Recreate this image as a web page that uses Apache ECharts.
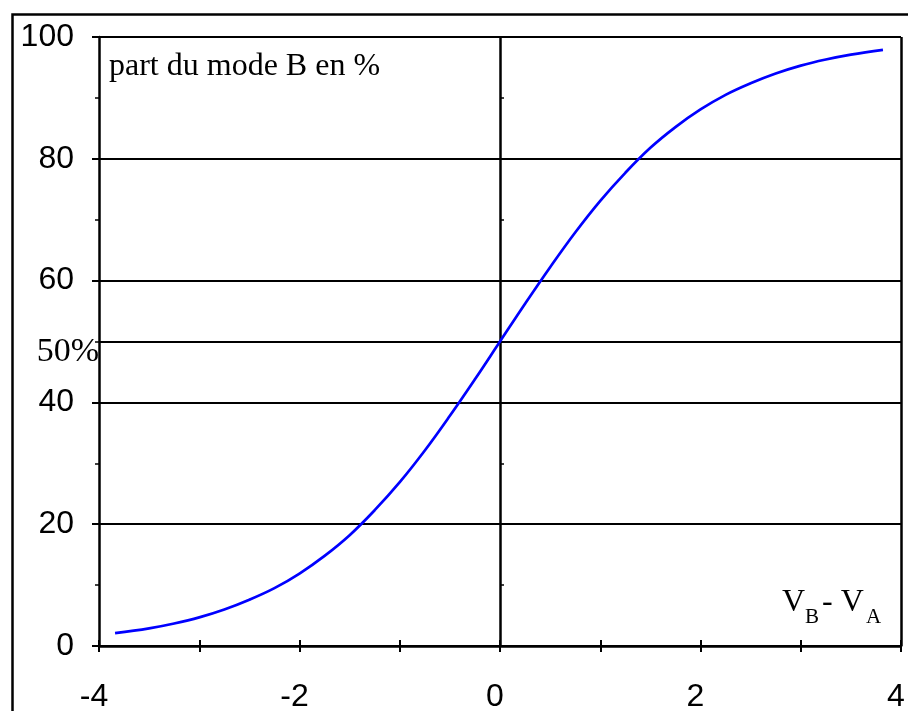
<!DOCTYPE html>
<html>
<head>
<meta charset="utf-8">
<script src="https://cdn.jsdelivr.net/npm/echarts@6/dist/echarts.min.js"></script>
<style>
  html, body { margin: 0; padding: 0; background: #fff; }
  #chart { width: 908px; height: 711px; }
</style>
</head>
<body>
<div id="chart"></div>
<script>
// Utility difference V_B - V_A (x) and share of mode B in % (y)
const utilityDiff = [-3.84, -3.5, -3.25, -3.0, -2.75, -2.5, -2.25, -2.0, -1.75, -1.5, -1.25, -1.0, -0.75, -0.5, -0.25,
                     0.0, 0.25, 0.5, 0.75, 1.0, 1.25, 1.5, 1.75, 2.0, 2.25, 2.5, 2.75, 3.0, 3.25, 3.5, 3.82];
const shareModeB  = [2.1, 2.9, 3.7, 4.7, 6.0, 7.6, 9.5, 11.9, 14.8, 18.2, 22.3, 26.9, 32.1, 37.8, 43.8,
                     50.0, 56.2, 62.2, 67.9, 73.1, 77.7, 81.8, 85.2, 88.1, 90.5, 92.4, 94.0, 95.3, 96.3, 97.1, 97.9];

// Axis tick labels
const xTickLabels = ['-4', '-2', '0', '2', '4'];
const yTickLabels = ['0', '20', '40', '60', '80', '100'];

// Reference lines: vertical at x = 0 and the right frame at x = 4, horizontal at 50 %
const refX = [0, 4];
const refY = [50];

const curve = utilityDiff.map((x, i) => [x, shareModeB[i]]);

const chart = echarts.init(document.getElementById('chart'), null, { renderer: 'canvas' });

const black = '#000';
const sansFont = '"Liberation Sans", Arial, sans-serif';
const serifFont = '"Liberation Serif", "Times New Roman", serif';

chart.setOption({
  animation: false,
  backgroundColor: '#fff',
  grid: { left: 99, right: 7, top: 37, bottom: 65, containLabel: false, outerBoundsMode: 'none' },
  xAxis: [
    {
      type: 'value', min: -4, max: 4, interval: 1, position: 'bottom',
      axisLine: { show: true, onZero: false, lineStyle: { color: black, width: 2.5 } },
      axisTick: { show: true, length: 6, lineStyle: { color: black, width: 2 } },
      axisLabel: {
        color: black, fontFamily: sansFont, fontSize: 32, margin: 35, padding: [0, 10, 0, 0],
        formatter: v => xTickLabels.includes(String(v)) ? String(v) : ''
      },
      splitLine: { show: false }
    },
    {
      // inner half of the crossing ticks
      type: 'value', min: -4, max: 4, interval: 1, position: 'bottom', offset: 0,
      axisLine: { show: false },
      axisTick: { show: true, inside: true, length: 6, lineStyle: { color: black, width: 2 } },
      axisLabel: { show: false },
      splitLine: { show: false }
    }
  ],
  yAxis: [
    {
      type: 'value', min: 0, max: 100, interval: 20, position: 'left',
      axisLine: { show: true, onZero: false, lineStyle: { color: black, width: 2.5 } },
      axisTick: { show: true, length: 7, lineStyle: { color: black, width: 2 } },
      minorTick: { show: true, splitNumber: 2, length: 4, lineStyle: { color: black, width: 1.5 } },
      axisLabel: {
        color: black, fontFamily: sansFont, fontSize: 32, margin: 25, padding: [0, 0, 4, 0],
        formatter: v => yTickLabels.includes(String(v)) ? String(v) : ''
      },
      splitLine: { show: true, lineStyle: { color: black, width: 2 } }
    },
    {
      // inner half of the crossing minor ticks
      type: 'value', min: 0, max: 100, interval: 20, position: 'left', offset: 0,
      axisLine: { show: false },
      axisTick: { show: false, inside: true },
      minorTick: { show: true, splitNumber: 2, length: 4, lineStyle: { color: black, width: 1.5 } },
      axisLabel: { show: false },
      splitLine: { show: false }
    }
  ],
  series: [
    {
      type: 'line', data: [], xAxisIndex: 0, yAxisIndex: 0, z: 1, silent: true,
      markLine: {
        silent: true, symbol: ['none', 'none'], animation: false,
        label: { show: false },
        lineStyle: { color: black, width: 2.5, type: 'solid' },
        data: [
          ...refX.map(v => ({ xAxis: v })),
          ...refY.map(v => ({ yAxis: v, lineStyle: { width: 2 } }))
        ]
      }
    },
    {
      type: 'line', data: curve, xAxisIndex: 0, yAxisIndex: 0, z: 5,
      smooth: 0.4, showSymbol: false, symbol: 'none',
      lineStyle: { color: '#0000ff', width: 2.7 }
    }
  ],
  graphic: [
    {
      type: 'rect', left: 10, top: 12, z: 0, silent: true,
      shape: { width: 1000, height: 1000 },
      style: { fill: 'none', stroke: black, lineWidth: 2.5 }
    },
    {
      type: 'text', x: 109, y: 67, z: 10,
      style: { text: 'part du mode B en %', font: '32px ' + serifFont, fill: black, textAlign: 'left', textVerticalAlign: 'middle' }
    },
    {
      type: 'text', x: 99, y: 352, z: 10,
      style: { text: '50%', font: '34px ' + serifFont, fill: black, textAlign: 'right', textVerticalAlign: 'middle' }
    },
    {
      type: 'text', x: 782, y: 603, z: 10,
      style: { text: 'V', font: '32px ' + serifFont, fill: black, textAlign: 'left', textVerticalAlign: 'middle' }
    },
    {
      type: 'text', x: 805, y: 617, z: 10,
      style: { text: 'B', font: '21px ' + serifFont, fill: black, textAlign: 'left', textVerticalAlign: 'middle' }
    },
    {
      type: 'text', x: 822, y: 603, z: 10,
      style: { text: '- V', font: '32px ' + serifFont, fill: black, textAlign: 'left', textVerticalAlign: 'middle' }
    },
    {
      type: 'text', x: 866, y: 617, z: 10,
      style: { text: 'A', font: '21px ' + serifFont, fill: black, textAlign: 'left', textVerticalAlign: 'middle' }
    }
  ]
});
</script>
</body>
</html>
